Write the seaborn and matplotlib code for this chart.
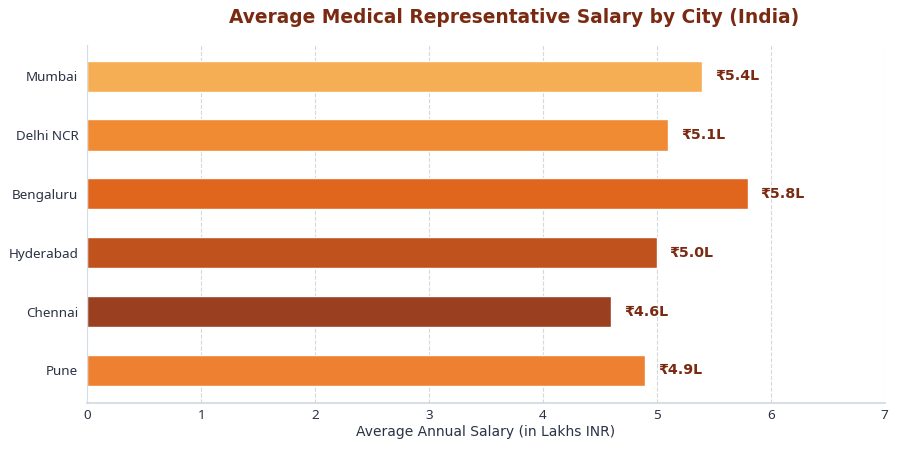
import matplotlib
matplotlib.use('Agg')
import matplotlib.pyplot as plt
import seaborn as sns
import pandas as pd

# data
cities = ['Mumbai', 'Delhi NCR', 'Bengaluru', 'Hyderabad', 'Chennai', 'Pune']
salary = [5.4, 5.1, 5.8, 5.0, 4.6, 4.9]
colors = ['#F6AE55', '#F08A33', '#E0661E', '#C0521E', '#9A3F1F', '#EE8131']
title = 'Average Medical Representative Salary by City (India)'
xlabel = 'Average Annual Salary (in Lakhs INR)'

df = pd.DataFrame({'City': cities, 'Salary': salary})

sns.set_style('white')
plt.rcParams['font.family'] = ['DejaVu Sans']

fig, ax = plt.subplots(figsize=(9, 4.5), dpi=100)
sns.barplot(data=df, x='Salary', y='City', hue='City', palette=colors,
            legend=False, width=0.53, saturation=1, ax=ax, orient='h')

for i, v in enumerate(salary):
    ax.text(v + 0.11, i, '₹' + format(v, '.1f') + 'L', va='center', ha='left',
            fontsize=10.3, fontweight='bold', color='#7B2A12')

ax.set_xlim(0, 7)
ax.set_ylim(5.55, -0.53)
ax.set_xlabel(xlabel, fontsize=10, color='#2A3245', labelpad=2)
ax.set_ylabel('')
ax.set_title(title, fontsize=13.4, fontweight='bold', color='#7B2A12', pad=16, x=0.535)
ax.xaxis.grid(True, linestyle='--', color='#D5D8DC', linewidth=0.8)
ax.set_axisbelow(True)
for s in ['top', 'right']:
    ax.spines[s].set_visible(False)
ax.spines['left'].set_color('#D5DCE3')
ax.spines['bottom'].set_color('#CFD8E0')
ax.spines['bottom'].set_linewidth(1.2)
ax.tick_params(axis='both', colors='#2A3245', length=3)
ax.tick_params(axis='x', pad=1.5)
for lab in ax.get_yticklabels() + ax.get_xticklabels():
    lab.set_family(['Noto Sans', 'DejaVu Sans'])
    lab.set_fontsize(9.7)

plt.subplots_adjust(left=0.097, right=0.983, top=0.9, bottom=0.105)
fig.savefig('out.png', dpi=100)
